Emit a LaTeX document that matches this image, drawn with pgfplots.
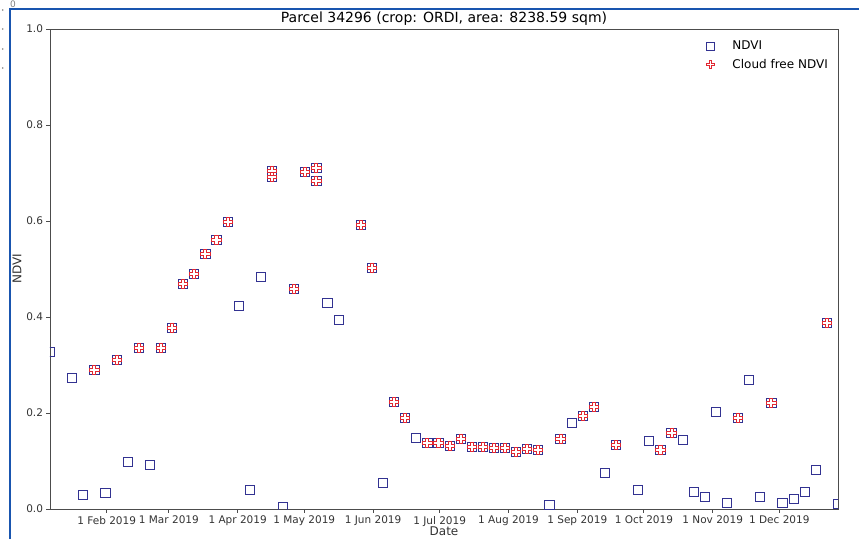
\documentclass[border=0pt]{standalone}
\usepackage{fontspec}
\setmainfont{DejaVu Sans}
\usepackage{pgfplots}
\usepackage{pgfplotstable}
\pgfplotsset{compat=1.18}
\definecolor{ndviblue}{RGB}{50,50,145}
\definecolor{cfred}{RGB}{225,40,50}
\definecolor{frameblue}{RGB}{25,85,175}
\pgfdeclareplotmark{pplus}{%
 \pgfpathmoveto{\pgfpoint{-0.3333\pgfplotmarksize}{-\pgfplotmarksize}}%
 \pgfpathlineto{\pgfpoint{0.3333\pgfplotmarksize}{-\pgfplotmarksize}}%
 \pgfpathlineto{\pgfpoint{0.3333\pgfplotmarksize}{-0.3333\pgfplotmarksize}}%
 \pgfpathlineto{\pgfpoint{\pgfplotmarksize}{-0.3333\pgfplotmarksize}}%
 \pgfpathlineto{\pgfpoint{\pgfplotmarksize}{0.3333\pgfplotmarksize}}%
 \pgfpathlineto{\pgfpoint{0.3333\pgfplotmarksize}{0.3333\pgfplotmarksize}}%
 \pgfpathlineto{\pgfpoint{0.3333\pgfplotmarksize}{\pgfplotmarksize}}%
 \pgfpathlineto{\pgfpoint{-0.3333\pgfplotmarksize}{\pgfplotmarksize}}%
 \pgfpathlineto{\pgfpoint{-0.3333\pgfplotmarksize}{0.3333\pgfplotmarksize}}%
 \pgfpathlineto{\pgfpoint{-\pgfplotmarksize}{0.3333\pgfplotmarksize}}%
 \pgfpathlineto{\pgfpoint{-\pgfplotmarksize}{-0.3333\pgfplotmarksize}}%
 \pgfpathlineto{\pgfpoint{-0.3333\pgfplotmarksize}{-0.3333\pgfplotmarksize}}%
 \pgfpathclose
 \pgfusepathqstroke
}
% day of year (1 Jan 2019 = 0), NDVI
\pgfplotstableread{
day ndvi
5.45 0.327
15.45 0.273
20.45 0.029
25.45 0.290
30.45 0.033
35.45 0.310
40.45 0.098
45.45 0.335
50.45 0.092
55.45 0.335
60.45 0.377
65.45 0.469
70.45 0.490
75.45 0.531
80.45 0.560
85.45 0.598
90.45 0.423
95.45 0.040
100.45 0.483
105.45 0.705
105.45 0.692
110.45 0.004
115.45 0.458
120.45 0.702
125.45 0.710
125.45 0.683
130.45 0.429
135.45 0.394
145.45 0.592
150.45 0.502
155.45 0.054
160.45 0.223
165.45 0.190
170.45 0.148
175.45 0.137
180.45 0.137
185.45 0.131
190.45 0.146
195.45 0.129
200.45 0.129
205.45 0.127
210.45 0.127
215.45 0.119
220.45 0.125
225.45 0.123
230.45 0.008
235.45 0.146
240.45 0.179
245.45 0.194
250.45 0.212
255.45 0.075
260.45 0.133
270.45 0.040
275.45 0.142
280.45 0.123
285.45 0.158
290.45 0.144
295.45 0.035
300.45 0.025
305.45 0.202
310.45 0.013
315.45 0.190
320.45 0.269
325.45 0.025
330.45 0.221
335.45 0.013
340.45 0.021
345.45 0.035
350.45 0.081
355.45 0.388
360.45 0.010
}\ndvitable
\pgfplotstableread{
day ndvi
25.45 0.290
35.45 0.310
45.45 0.335
55.45 0.335
60.45 0.377
65.45 0.469
70.45 0.490
75.45 0.531
80.45 0.560
85.45 0.598
105.45 0.705
105.45 0.692
115.45 0.458
120.45 0.702
125.45 0.710
125.45 0.683
145.45 0.592
150.45 0.502
160.45 0.223
165.45 0.190
175.45 0.137
180.45 0.137
185.45 0.131
190.45 0.146
195.45 0.129
200.45 0.129
205.45 0.127
210.45 0.127
215.45 0.119
220.45 0.125
225.45 0.123
235.45 0.146
245.45 0.194
250.45 0.212
260.45 0.133
280.45 0.123
285.45 0.158
315.45 0.190
330.45 0.221
355.45 0.388
}\cftable
\begin{document}
\begin{tikzpicture}
\path[use as bounding box] (0pt,0pt) rectangle (859pt,539pt);
\draw[frameblue, line width=2pt] (10pt,0pt) -- (10pt,529.7pt) -- (859pt,529.7pt);
\foreach \yy in {529,510,490,471} {\fill[gray] (2.7pt,\yy pt) circle (0.9pt);}
\node[gray, font=\fontsize{9}{11}\selectfont, inner sep=0pt] at (13pt,535pt) {0};
\begin{axis}[
  at={(50pt,30pt)}, anchor=south west,
  scale only axis, width=788pt, height=480pt,
  xmin=5.45, xmax=360.45, ymin=0, ymax=1,
  clip marker paths=true,
  axis line style={black!70, line width=0.8pt},
  tick style={black!70, line width=0.8pt},
  major tick length=3.5pt, tick align=outside, tick pos=left,
  xtick={31,59,90,120,151,181,212,243,273,304,334},
  xticklabels={1 Feb 2019,1 Mar 2019,1 Apr 2019,1 May 2019,1 Jun 2019,1 Jul 2019,1 Aug 2019,1 Sep 2019,1 Oct 2019,1 Nov 2019,1 Dec 2019},
  ytick={0,0.2,0.4,0.6,0.8,1},
  yticklabel style={/pgf/number format/.cd, fixed, fixed zerofill, precision=1, assume math mode=true},
  ticklabel style={font=\fontsize{10.5}{12}\selectfont, text=black!80},
  title={Parcel 34296 (crop: ORDI, area: 8238.59 sqm)},
  title style={at={(axis description cs:0.5,1)}, anchor=south, inner sep=0pt, yshift=-3pt, font=\fontsize{14}{16}\selectfont},
  xlabel={Date}, ylabel={NDVI},
  xlabel style={at={(axis description cs:0.5,-0.046)}, anchor=center, inner sep=0pt, font=\fontsize{12}{14}\selectfont, text=black!80},
  ylabel style={at={(axis description cs:-0.042,0.5)}, anchor=center, font=\fontsize{12}{14}\selectfont, text=black!80},
  legend style={at={(1,1)}, anchor=north east, xshift=-5pt, yshift=-8pt, draw=none, fill=none, font=\fontsize{12}{14}\selectfont, row sep=3.5pt},
  legend cell align=left,
  legend image code/.code={\path[draw=none, fill=none] (-5pt,0pt) -- (20pt,0pt); \draw[#1, mark size=3.8pt] plot coordinates {(0pt,0pt)};},
]
\addplot[only marks, mark=square, mark size=4.6pt, ndviblue, mark options={line width=0.9pt}] table[x=day,y=ndvi] {\ndvitable};
\addlegendentry{NDVI}
\addplot[only marks, mark=pplus, mark size=4.6pt, cfred, mark options={line width=0.9pt}] table[x=day,y=ndvi] {\cftable};
\addlegendentry{Cloud free NDVI}
\end{axis}
\end{tikzpicture}
\end{document}
